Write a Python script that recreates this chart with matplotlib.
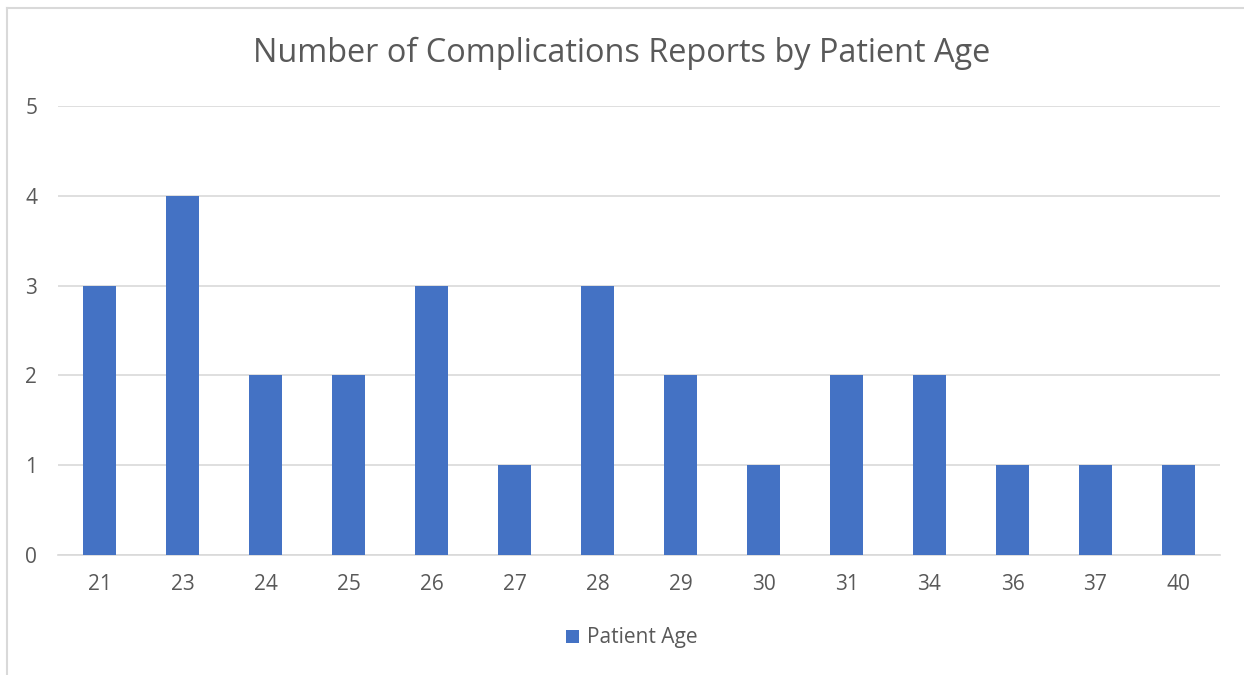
import matplotlib
matplotlib.use("Agg")
import matplotlib.pyplot as plt
from matplotlib.lines import Line2D
import numpy as np

ages = ["21", "23", "24", "25", "26", "27", "28", "29", "30", "31", "34", "36", "37", "40"]
counts = [3, 4, 2, 2, 3, 1, 3, 2, 1, 2, 2, 1, 1, 1]

BAR = "#4472C4"
GRID = "#D9D9D9"
TXT = "#595959"

plt.rcParams['font.family'] = ['Open Sans', 'DejaVu Sans']

W, H = 1244, 675
fig = plt.figure(figsize=(W / 100, H / 100), dpi=100)
ax = fig.add_axes([58 / W, 1 - 555 / H, (1220 - 58) / W, (555 - 106) / H])

x = np.arange(len(ages))
ax.bar(x, counts, width=0.4, color=BAR, label="Patient Age", zorder=3)

ax.set_xlim(-0.5, len(ages) - 0.5)
ax.set_ylim(0, 5)
ax.set_yticks(range(6))
ax.set_xticks(x)
ax.set_xticklabels(ages)
ax.tick_params(length=0, labelsize=15, colors=TXT)
ax.tick_params(axis='y', pad=15)
ax.tick_params(axis='x', pad=14)
ax.yaxis.grid(True, color=GRID, linewidth=1.2, zorder=0)
for s in ["top", "right", "left"]:
    ax.spines[s].set_visible(False)
ax.spines["bottom"].set_color(GRID)
ax.spines["bottom"].set_linewidth(1.2)

fig.text(0.5, 1 - 53 / H, "Number of Complications Reports by Patient Age",
         ha="center", va="center", fontsize=23.4, color=TXT)

ax.legend(loc="center", bbox_to_anchor=((632 - 58) / (1220 - 58), (555 - 638) / (555 - 106)),
          frameon=False, fontsize=15, labelcolor=TXT, handlelength=0.6,
          handleheight=0.6, handletextpad=0.4)

# chart frame
fig.add_artist(Line2D([7.5 / W, 7.5 / W], [0, 1 - 7.5 / H], color=GRID, linewidth=1.5))
fig.add_artist(Line2D([7.5 / W, 1], [1 - 7.5 / H, 1 - 7.5 / H], color=GRID, linewidth=1.5))

fig.savefig("out.png", dpi=100, facecolor="white")
